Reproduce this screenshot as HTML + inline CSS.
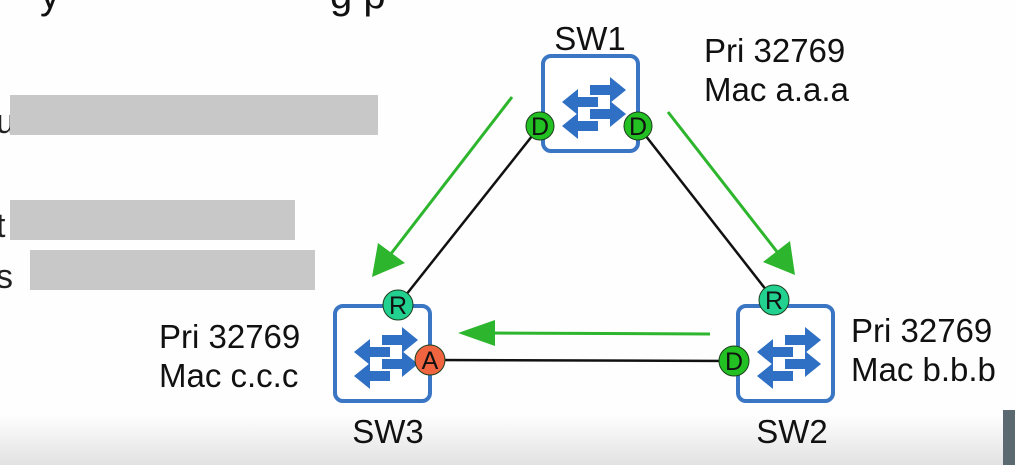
<!DOCTYPE html>
<html><head><meta charset="utf-8"><style>
html,body{margin:0;padding:0;background:#fefefe;}
body{width:1015px;height:465px;overflow:hidden;position:relative;font-family:"Liberation Sans",sans-serif;}
</style></head><body>
<svg width="1015" height="465" viewBox="0 0 1015 465" style="position:absolute;left:0;top:0">
<defs>
<linearGradient id="bg" x1="0" y1="0" x2="0" y2="1"><stop offset="0" stop-color="#fefefe"/><stop offset="1" stop-color="#e2e2e2"/></linearGradient>
<g id="ic" fill="#2f6fc4">
<path d="M47 29 h20 v-8 l16 13 l-16 13 v-8 h-20 z"/>
<path d="M55 41 h-20 v-8 l-16 13 l16 13 v-8 h20 z"/>
<path d="M47 53 h20 v-8 l16 13 l-16 13 v-8 h-20 z"/>
<path d="M55 65 h-20 v-8 l-16 13 l16 13 v-8 h20 z"/>
</g>
</defs>
<rect x="0" y="415" width="1015" height="50" fill="url(#bg)"/>
<rect x="1003" y="410" width="12" height="55" fill="#5a6a70"/>
<text x="40" y="8" font-size="40" fill="#111">y</text>
<text x="330" y="8" font-size="40" fill="#111">g p</text>
<text x="-4" y="133" font-size="34" fill="#222">u</text>
<rect x="10" y="95" width="368" height="40" fill="#c8c8c8"/>
<text x="-4" y="237" font-size="34" fill="#222">t</text>
<rect x="10" y="200" width="285" height="40" fill="#c8c8c8"/>
<text x="-4" y="288" font-size="34" fill="#222">s</text>
<rect x="30" y="250" width="285" height="40" fill="#c8c8c8"/>
<g stroke="#111" stroke-width="2.5">
<line x1="540" y1="126" x2="398" y2="305"/>
<line x1="638" y1="126" x2="774" y2="300"/>
<line x1="430" y1="360" x2="734" y2="361"/>
</g>
<g stroke="#2db52d" stroke-width="3" fill="#2db52d">
<line x1="512" y1="97" x2="390" y2="255"/>
<polygon points="372,277 378,243 405,263" stroke="none"/>
<line x1="668" y1="112" x2="778" y2="253"/>
<polygon points="795,275 763,262 790,241" stroke="none"/>
<line x1="710" y1="334" x2="485" y2="333"/>
<polygon points="458,333 495,320 495,346" stroke="none"/>
</g>
<g fill="#fff" stroke="#3a76c4" stroke-width="4">
<rect x="543" y="56" width="95" height="95" rx="8"/>
<rect x="335" y="306" width="95" height="95" rx="8"/>
<rect x="738" y="306" width="95" height="95" rx="8"/>
</g>
<use href="#ic" x="543" y="56"/>
<use href="#ic" x="335" y="306"/>
<use href="#ic" x="738" y="306"/>
<g stroke="#1d3d1d" stroke-width="1">
<circle cx="540" cy="126" r="14" fill="#22c022"/>
<circle cx="638" cy="126" r="14" fill="#22c022"/>
<circle cx="398" cy="305" r="15" fill="#22d090"/>
<circle cx="774" cy="300" r="15" fill="#22d090"/>
<circle cx="430" cy="360" r="15" fill="#f06440"/>
<circle cx="734" cy="361" r="15" fill="#22c022"/>
</g>
<g font-size="25" text-anchor="middle" fill="#111">
<text x="540" y="135">D</text>
<text x="638" y="135">D</text>
<text x="398" y="314">R</text>
<text x="774" y="309">R</text>
<text x="430" y="369">A</text>
<text x="734" y="370">D</text>
</g>
<g font-size="33" fill="#111">
<text x="590" y="50" text-anchor="middle">SW1</text>
<text x="388" y="443" text-anchor="middle">SW3</text>
<text x="792" y="443" text-anchor="middle">SW2</text>
<text x="704" y="62">Pri 32769</text>
<text x="704" y="101">Mac a.a.a</text>
<text x="159" y="348">Pri 32769</text>
<text x="159" y="387">Mac c.c.c</text>
<text x="851" y="342">Pri 32769</text>
<text x="851" y="381">Mac b.b.b</text>
</g>
</svg>
</body></html>
